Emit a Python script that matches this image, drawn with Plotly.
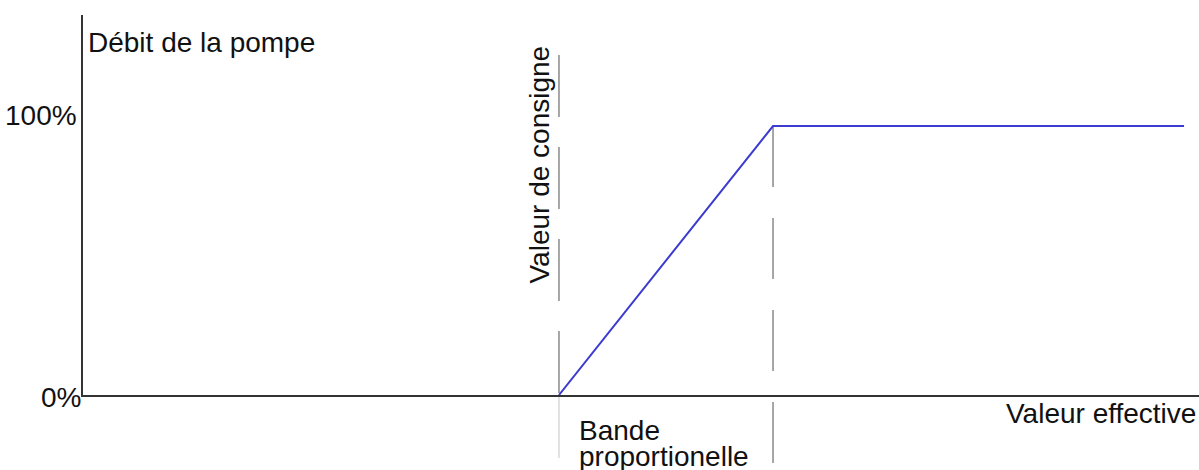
import plotly.graph_objects as go

# ---- data ----
controlled_value = [42.65, 61.83, 98.66]     # x positions of the curve (arbitrary units, 0..100)
pump_flow_pct = [0, 100, 100]                # pump flow in %
setpoint = 42.65                             # "Valeur de consigne"
band_end = 61.83                             # end of "Bande proportionelle"
tick_values = [0, 100]
tick_labels = ["0%", "100%"]

X_MAX = 100.0
Y_MAX = 141.3

# ---- layout geometry (pixels) ----
W, H = 1199, 470
PL, PT, PB = 83, 15, 395
PW, PH = W - PL, PB - PT

def px_x(p):
    return (p - PL) / PW

def px_y(p):
    return (PB - p) / PH

FONT = "Liberation Sans, Arial, sans-serif"
TXT = "#111111"

fig = go.Figure()
fig.add_trace(go.Scatter(
    x=controlled_value, y=pump_flow_pct, mode="lines",
    line=dict(color="#3b3bd0", width=2), hoverinfo="skip", showlegend=False))

shapes = [
    # setpoint dashed line (above axis)
    dict(type="line", xref="x", yref="paper", x0=setpoint, x1=setpoint,
         y0=px_y(55), y1=0, line=dict(color="#8a8a8a", width=1.5, dash="62px,30px"), layer="below"),
    # setpoint solid line below axis
    dict(type="line", xref="x", yref="paper", x0=setpoint, x1=setpoint,
         y0=0, y1=px_y(458), line=dict(color="#c4c4c4", width=1), layer="below"),
    # band end dashed line
    dict(type="line", xref="x", yref="paper", x0=band_end, x1=band_end,
         y0=pump_flow_pct[1] / Y_MAX, y1=px_y(468),
         line=dict(color="#8a8a8a", width=1.5, dash="61px,31px"), layer="below"),
]

def ann(text, x, y, xanchor, **kw):
    d = dict(text=text, xref="paper", yref="paper", x=x, y=y, xanchor=xanchor,
             yanchor="middle", showarrow=False, font=dict(family=FONT, size=28, color=TXT))
    d.update(kw)
    return d

annotations = [
    ann("Débit de la pompe", px_x(86), px_y(42.5), "left"),
    ann(tick_labels[1], px_x(79), px_y(115.5), "right"),
    ann(tick_labels[0], px_x(83), px_y(397.5), "right"),
    ann("Valeur effective", px_x(1198), px_y(413.5), "right"),
    ann("Bande", px_x(577), px_y(430.5), "left"),
    ann("proportionelle", px_x(577), px_y(456.5), "left"),
    ann("Valeur de consigne", px_x(538.5), px_y(165), "center", textangle=-90),
]

fig.update_layout(
    width=W, height=H,
    margin=dict(l=PL, r=0, t=PT, b=H - PB, pad=0),
    paper_bgcolor="white", plot_bgcolor="white",
    xaxis=dict(range=[0, X_MAX], showgrid=False, zeroline=False, showticklabels=False,
               ticks="", showline=True, linecolor="#333333", linewidth=2, fixedrange=True),
    yaxis=dict(range=[0, Y_MAX], showgrid=False, zeroline=False, showticklabels=False,
               ticks="", showline=True, linecolor="#333333", linewidth=2, fixedrange=True,
               tickvals=tick_values, ticktext=tick_labels),
    shapes=shapes,
    annotations=annotations,
    showlegend=False,
)

fig.write_html(
    "out.html",
    config={"displayModeBar": False},
    post_script="document.body.style.margin='0px';document.body.style.overflow='hidden';",
)
